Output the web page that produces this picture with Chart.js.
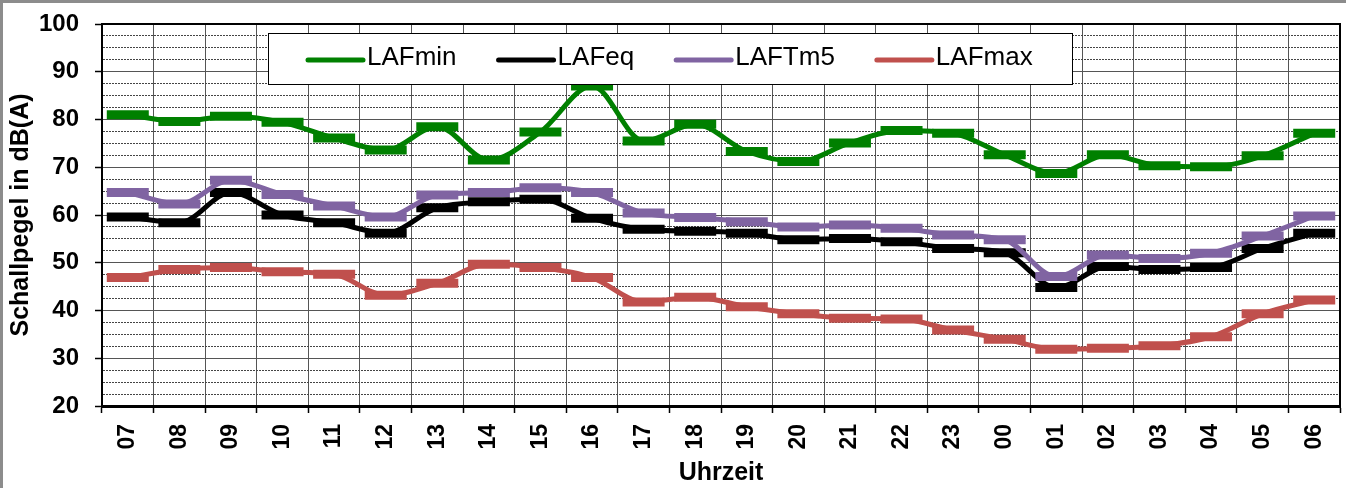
<!DOCTYPE html>
<html><head><meta charset="utf-8">
<script src="https://cdn.jsdelivr.net/npm/chart.js@4/dist/chart.umd.min.js"></script>
<style>
html,body{margin:0;padding:0;background:#fff;}
#wrap{position:relative;width:1346px;height:488px;overflow:hidden;}
#frame{position:absolute;left:0;top:0;width:1346px;height:488px;box-sizing:border-box;border-top:3px solid #8c8c8c;border-left:3px solid #8c8c8c;pointer-events:none;}
canvas{display:block;}
</style></head><body>
<div id="wrap"><canvas id="c" width="1346" height="488"></canvas><div id="frame"></div></div>
<script>
const hours = ['07','08','09','10','11','12','13','14','15','16','17','18','19','20','21','22','23','00','01','02','03','04','05','06'];
const LAFmin = [81, 79.6, 80.7, 79.4, 76.1, 73.6, 78.5, 71.5, 77.4, 87, 75.5, 79, 73.3, 71.2, 75.1, 77.7, 77.1, 72.6, 68.7, 72.6, 70.3, 70.1, 72.4, 77.1];
const LAFeq = [59.6, 58.4, 64.7, 60, 58.4, 56.2, 61.5, 62.8, 63.3, 59.3, 57, 56.6, 56.2, 54.8, 55.1, 54.4, 53, 52.1, 44.8, 49.2, 48.6, 49, 53, 56.2];
const LAFTm5 = [64.7, 62.3, 67.3, 64.3, 61.9, 59.6, 64.2, 64.7, 65.7, 64.7, 60.4, 59.5, 58.6, 57.5, 57.9, 57.2, 55.8, 54.8, 47.1, 51.6, 50.9, 52, 55.6, 59.8];
const LAFmax = [46.9, 48.6, 49, 48.1, 47.6, 43.2, 45.7, 49.7, 49, 46.9, 41.8, 42.8, 40.8, 39.3, 38.4, 38.2, 35.9, 34, 31.9, 32.1, 32.6, 34.5, 39.3, 42.2];
const yTicksMajor = [20, 30, 40, 50, 60, 70, 80, 90, 100];

const FONT = "'Liberation Sans', Arial, sans-serif";
Chart.defaults.font.family = FONT;
Chart.defaults.color = '#000';

function series(label, data, color, order) {
  return {
    label, data, order,
    borderColor: color, backgroundColor: color,
    borderWidth: 5, cubicInterpolationMode: 'monotone', fill: false,
    pointStyle: 'line', pointRadius: 21, pointHoverRadius: 21,
    pointBorderWidth: 9, pointBorderColor: color, pointBackgroundColor: color
  };
}

const legendInside = {
  id: 'legendInside',
  afterDatasetsDraw(chart) {
    const {ctx, chartArea: a} = chart;
    const left = a.left + 166, top = a.top + 9, w = 804, h = 51;
    ctx.save();
    ctx.fillStyle = '#fff';
    ctx.fillRect(left, top, w, h);
    ctx.strokeStyle = '#000';
    ctx.lineWidth = 1;
    ctx.strokeRect(left + 0.5, top + 0.5, w, h);
    ctx.font = "26px " + FONT;
    ctx.textBaseline = 'middle';
    let x = left + 40;
    const y = top + 27;
    chart.data.datasets.forEach(ds => {
      ctx.strokeStyle = ds.borderColor;
      ctx.lineWidth = 5;
      ctx.lineCap = 'round';
      ctx.beginPath();
      ctx.moveTo(x, y);
      ctx.lineTo(x + 55, y);
      ctx.stroke();
      ctx.fillStyle = '#000';
      ctx.fillText(ds.label, x + 59, y - 2);
      x += 59 + ctx.measureText(ds.label).width + 42;
    });
    ctx.restore();
  }
};

const plotFrame = {
  id: 'plotFrame',
  afterDraw(chart) {
    const {ctx, chartArea: a} = chart;
    ctx.save();
    ctx.strokeStyle = '#000';
    ctx.lineWidth = 2;
    ctx.beginPath();
    ctx.moveTo(a.left, a.top);
    ctx.lineTo(a.right, a.top);
    ctx.lineTo(a.right, a.bottom);
    ctx.stroke();
    ctx.restore();
  }
};

new Chart(document.getElementById('c'), {
  type: 'line',
  data: {
    labels: hours,
    datasets: [
      series('LAFmin', LAFmin, '#008000', 4),
      series('LAFeq', LAFeq, '#000000', 3),
      series('LAFTm5', LAFTm5, '#8064a2', 2),
      series('LAFmax', LAFmax, '#c0504d', 1)
    ]
  },
  options: {
    responsive: false,
    animation: false,
    devicePixelRatio: 1,
    layout: { autoPadding: false, padding: { top: 24, right: 6, left: 0, bottom: 0 } },
    plugins: { legend: { display: false }, tooltip: { enabled: false } },
    scales: {
      x: {
        offset: true,
        afterFit(s) { s.height = 82; s.paddingLeft = 0; s.paddingRight = 0; },
        grid: { offset: true, color: '#555', lineWidth: 1, tickLength: 7, tickColor: '#000', tickWidth: 1.5 },
        border: { color: '#000', width: 3 },
        ticks: { minRotation: 90, maxRotation: 90, autoSkip: false, padding: 11, color: '#000', font: { size: 23, weight: 'bold' } },
        title: { display: true, text: 'Uhrzeit', color: '#000', font: { size: 25, weight: 'bold' }, padding: { top: 0, bottom: 0 } }
      },
      y: {
        min: 20, max: 100,
        afterFit(s) { s.width = 102; s.paddingTop = 0; s.paddingBottom = 0; },
        ticks: {
          stepSize: 2.5, autoSkip: false, padding: 16, color: '#000',
          font: { size: 24, weight: 'bold' },
          callback: v => yTicksMajor.includes(v) ? String(v) : ''
        },
        grid: {
          color: c => (c.tick && yTicksMajor.includes(c.tick.value)) ? '#555' : '#444',
          lineWidth: 1,
          tickLength: 7,
          tickWidth: 1.5,
          tickColor: c => (c.tick && yTicksMajor.includes(c.tick.value)) ? '#000' : 'rgba(0,0,0,0)'
        },
        border: {
          color: '#000', width: 2,
          dash: c => (c.tick && !yTicksMajor.includes(c.tick.value)) ? [2, 1] : []
        },
        title: { display: true, text: 'Schallpegel in dB(A)', color: '#000', font: { size: 25, weight: 'bold' }, padding: { top: 6, bottom: 0 } }
      }
    }
  },
  plugins: [legendInside, plotFrame]
});
</script>
</body></html>
